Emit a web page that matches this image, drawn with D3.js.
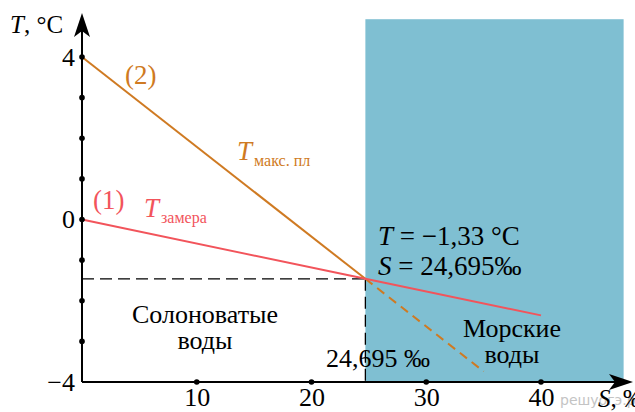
<!DOCTYPE html>
<html>
<head>
<meta charset="utf-8">
<script src="https://cdn.jsdelivr.net/npm/d3@7"></script>
</head>
<body style="margin:0">
<script>
const WIDTH = 635
const HEIGHT = 412
const SERIF = "'Liberation Serif'"

// Data
const freezeS = [0, 24.695, 40]
const freezeT = [0, -1.46, -2.36]
const maxDensS = [0, 24.695]
const maxDensT = [4, -1.46]
const maxDensExtS = [24.695, 35]
const maxDensExtT = [-1.46, -3.74]
const crossS = 24.695
const crossT = -1.46
const seaRegionS = [24.695, 47.2]
const seaRegionTop = 4.93
const xTicks = [10, 20, 30, 40]
const yTickLabels = [-4, 0, 4]
const yTickDots = [-3, -2, -1, 0, 1, 2, 3, 4]

const ORANGE = "#cf7a22"
const RED = "#f2545b"
const SEA = "#7fbfd2"

// Scales
const x = d3.scaleLinear([0, 40], [82, 541])
const y = d3.scaleLinear([-4, 4], [382, 57])

const svg = d3.select("body").append("svg")
  .attr("width", WIDTH)
  .attr("height", HEIGHT)
  .style("display", "block")

// Text helper: parts [{t, italic, size, dx, dy}]
const label = (px, py, parts, opts = {}) => {
  const t = svg.append("text")
    .attr("x", px).attr("y", py)
    .attr("font-family", opts.family || SERIF)
    .attr("font-size", opts.size || 26)
    .attr("fill", opts.fill || "#000")
    .attr("text-anchor", opts.anchor || "start")
  parts.forEach(p => {
    t.append("tspan")
      .attr("font-style", p.italic ? "italic" : null)
      .attr("font-size", p.size || null)
      .attr("dx", p.dx || null)
      .attr("dy", p.dy || null)
      .text(p.t)
  })
  return t
}

// Sea water region
svg.append("rect")
  .attr("x", x(seaRegionS[0]))
  .attr("y", y(seaRegionTop))
  .attr("width", x(seaRegionS[1]) - x(seaRegionS[0]))
  .attr("height", y(-4) - y(seaRegionTop))
  .attr("fill", SEA)

// Dashed guides through intersection
svg.append("line")
  .attr("x1", x(0)).attr("x2", x(crossS))
  .attr("y1", y(crossT)).attr("y2", y(crossT))
  .attr("stroke", "#000").attr("stroke-width", 1.3)
  .attr("stroke-dasharray", "12,6")
svg.append("line")
  .attr("x1", x(crossS)).attr("x2", x(crossS))
  .attr("y1", y(crossT)).attr("y2", y(-4))
  .attr("stroke", "#000").attr("stroke-width", 1.3)
  .attr("stroke-dasharray", "12,6")

const line = d3.line()

// Max density line (2)
svg.append("path")
  .attr("d", line(maxDensS.map((s, i) => [x(s), y(maxDensT[i])])))
  .attr("fill", "none").attr("stroke", ORANGE).attr("stroke-width", 2)
svg.append("path")
  .attr("d", line(maxDensExtS.map((s, i) => [x(s), y(maxDensExtT[i])])))
  .attr("fill", "none").attr("stroke", ORANGE).attr("stroke-width", 2)
  .attr("stroke-dasharray", "9,6")

// Freezing line (1)
svg.append("path")
  .attr("d", line(freezeS.map((s, i) => [x(s), y(freezeT[i])])))
  .attr("fill", "none").attr("stroke", RED).attr("stroke-width", 2)

// Axes (labels only, lines drawn below)
const xAxis = d3.axisBottom(x).tickValues(xTicks).tickSize(0).tickPadding(6)
svg.append("g")
  .attr("transform", `translate(0,${y(-4)})`)
  .call(xAxis)
  .attr("font-family", SERIF)
  .attr("font-size", 26)
  .call(g => g.select(".domain").remove())
  .call(g => g.selectAll("text").attr("fill", "#000").attr("font-family", SERIF))

const yAxis = d3.axisLeft(y).tickValues(yTickLabels).tickSize(0).tickPadding(7)
svg.append("g")
  .attr("transform", `translate(${x(0)},0)`)
  .call(yAxis)
  .attr("font-family", SERIF)
  .attr("font-size", 26)
  .call(g => g.select(".domain").remove())
  .call(g => g.selectAll("text").attr("fill", "#000").attr("font-family", SERIF))

// Axis lines with arrows
svg.append("line")
  .attr("x1", x(0)).attr("x2", 622)
  .attr("y1", y(-4)).attr("y2", y(-4))
  .attr("stroke", "#000").attr("stroke-width", 2)
svg.append("line")
  .attr("x1", x(0)).attr("x2", x(0))
  .attr("y1", y(-4)).attr("y2", 22)
  .attr("stroke", "#000").attr("stroke-width", 2)

const ax = x(0)
svg.append("path")
  .attr("d", `M${ax},13 L${ax + 8},37 L${ax},31 L${ax - 8},37 Z`)
  .attr("fill", "#000")
const ay = y(-4)
svg.append("path")
  .attr("d", `M633,${ay} L609,${ay - 8} L615,${ay} L609,${ay + 8} Z`)
  .attr("fill", "#000")

// Tick dots
svg.append("g").selectAll("circle")
  .data(xTicks)
  .join("circle")
    .attr("cx", d => x(d)).attr("cy", y(-4)).attr("r", 2.8).attr("fill", "#000")
svg.append("g").selectAll("circle")
  .data(yTickDots)
  .join("circle")
    .attr("cx", x(0)).attr("cy", d => y(d)).attr("r", 2.8).attr("fill", "#000")

// Axis titles
label(10, 33, [{ t: "T", italic: true }, { t: ",  °C" }], { size: 25 })
label(560, 405, [{ t: "решуогэ.рф" }], { family: "'DejaVu Sans'", size: 14, fill: "#c4c4c4" })
label(598, 407, [{ t: "S", italic: true }, { t: ", ‰" }], { size: 25 })

// Curve labels
label(125, 84, [{ t: "(2)" }], { size: 27, fill: ORANGE })
label(237, 160, [{ t: "T", italic: true, size: 27 }, { t: "макс. пл", size: 16, dx: 2, dy: 6 }], { fill: ORANGE })
label(93, 209, [{ t: "(1)" }], { size: 27, fill: RED })
label(144, 217, [{ t: "T", italic: true, size: 27 }, { t: "замера", size: 16, dx: 2, dy: 6 }], { fill: RED })

// Intersection values
label(378, 245, [{ t: "T", italic: true }, { t: " = −1,33 °C" }], { size: 27 })
label(378, 275, [{ t: "S", italic: true }, { t: " = 24,695‰" }], { size: 27 })
label(326, 367, [{ t: "24,695 ‰" }])

// Region labels
label(205, 323, [{ t: "Солоноватые" }], { anchor: "middle" })
label(205, 349, [{ t: "воды" }], { anchor: "middle" })
label(512, 337, [{ t: "Морские" }], { anchor: "middle" })
label(512, 363, [{ t: "воды" }], { anchor: "middle" })
</script>
</body>
</html>
